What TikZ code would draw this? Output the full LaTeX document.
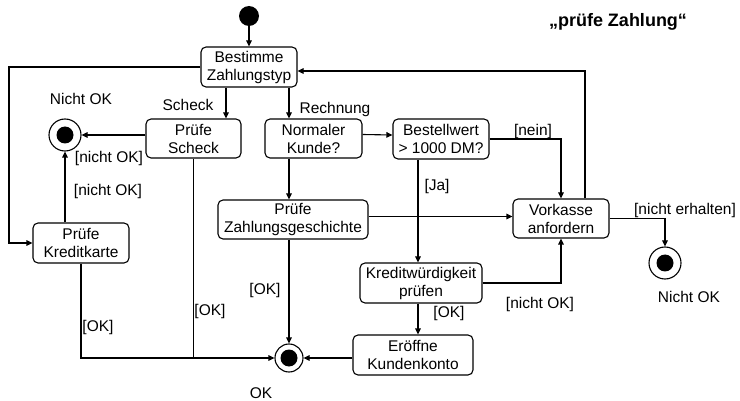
\documentclass[tikz,border=0pt]{standalone}
\usepackage{fontspec}
\setmainfont{Liberation Sans}
\usetikzlibrary{arrows.meta,calc}
\begin{document}
\begin{tikzpicture}[x=1pt,y=-1pt,
  every node/.style={font=\fontsize{15.5}{18}\selectfont},
  box/.style={draw, rounded corners=5pt, align=center, inner sep=0pt, line width=1.1pt},
  ln/.style={line width=1.1pt},
  arr/.style={line width=1.1pt, -{Triangle[length=6pt,width=5.5pt]}},
  fin/.style={draw, circle, line width=1.1pt, inner sep=0pt},
  lbl/.style={inner sep=0pt}]
\useasboundingbox (0,0) rectangle (740,401);
% title
\node[lbl, font=\bfseries\fontsize{18}{21}\selectfont] (title) at (618,22) {„prüfe Zahlung“};
% start
\node[circle, fill, inner sep=0pt, minimum size=20] (start) at (249,16) {};
% boxes
\node[box, minimum width=96, minimum height=40] (bestimme) at (249,67) {Bestimme\\Zahlungstyp};
\node[box, minimum width=95, minimum height=39] (scheck) at (193.5,138.5) {Prüfe\\Scheck};
\node[box, minimum width=97, minimum height=39] (normaler) at (313.5,138.5) {Normaler\\Kunde?};
\node[box, minimum width=96, minimum height=40] (bestell) at (441,139) {Bestellwert\\> 1000 DM?};
\node[box, minimum width=150, minimum height=39] (zahlung) at (293,219.5) {Prüfe\\Zahlungsgeschichte};
\node[box, minimum width=96, minimum height=39] (vorkasse) at (561,218.5) {Vorkasse\\anfordern};
\node[box, minimum width=96, minimum height=40] (kkarte) at (81,243) {Prüfe\\Kreditkarte};
\node[box, minimum width=122, minimum height=40] (kredit) at (421,283) {Kreditwürdigkeit\\prüfen};
\node[box, minimum width=120, minimum height=40] (eroeffne) at (413,355) {Eröffne\\Kundenkonto};
% final states
\node[fin, minimum size=32] (n1) at (65,135) {};
\fill (n1.center) circle (8.5);
\node[fin, minimum size=32] (n2) at (665,263) {};
\fill (n2.center) circle (8.5);
\node[fin, minimum size=28] (ok) at (289,358) {};
\fill (ok.center) circle (8.5);
% helper coordinates
\coordinate (lx) at (9,0);
\coordinate (sx) at (226,0);
\coordinate (rx) at (289,0);
\coordinate (vx) at (585,0);
\coordinate (jx) at (418,0);
% connectors
\draw[arr] (start) -- (bestimme.north);
\draw[arr] (bestimme.west) -- (bestimme.west -| lx) |- (kkarte.west);
\draw[arr] (vorkasse.north -| vx) |- ($(bestimme.east)+(0,4)$);
\draw[arr] (bestimme.south -| sx) -- (scheck.north -| sx);
\draw[arr] (bestimme.south -| rx) -- (normaler.north -| rx);
\draw[arr] ($(normaler.east)+(0,-4)$) -- ($(bestell.west)+(0,-4)$);
\draw[arr] (bestell.east) -| (vorkasse.north);
\draw[arr] (bestell.south -| jx) -- (kredit.north -| jx);
\draw[arr] (kredit.east) -| (vorkasse.south);
\draw[arr] (kredit.south -| jx) -- (eroeffne.north -| jx);
\draw[arr] (eroeffne.west |- ok.east) -- (ok.east);
\draw[arr] (normaler.south -| rx) -- (zahlung.north -| rx);
\draw[arr] ($(zahlung.east)+(0,-3)$) -- ($(vorkasse.west |- zahlung.east)+(0,-3)$);
\draw[arr] (zahlung.south -| ok.north) -- (ok.north);
\draw[ln] (scheck.south) -- (scheck.south |- ok.west);
\draw[arr] (kkarte.south) |- (ok.west);
\draw[arr] (scheck.west |- n1.east) -- (n1.east);
\draw[arr] (kkarte.north -| n1.south) -- (n1.south);
\draw[arr] (vorkasse.east) -| (n2.north);
% labels
\node[lbl] (l1) at (81,99) {Nicht OK};
\node[lbl] (l2) at (188,105) {Scheck};
\node[lbl] (l3) at (335,109) {Rechnung};
\node[lbl] (l4) at (109,158) {[nicht OK]};
\node[lbl] (l5) at (108,191) {[nicht OK]};
\node[lbl] (l6) at (533,131) {[nein]};
\node[lbl] (l7) at (437,186) {[Ja]};
\node[lbl] (l8) at (685,210) {[nicht erhalten]};
\node[lbl] (l9) at (689,297) {Nicht OK};
\node[lbl] (l10) at (540,304) {[nicht OK]};
\node[lbl] (l11) at (449,313) {[OK]};
\node[lbl] (l12) at (265,290) {[OK]};
\node[lbl] (l13) at (210,311) {[OK]};
\node[lbl] (l14) at (98,327) {[OK]};
\node[lbl] (l15) at (261,393) {OK};
\end{tikzpicture}
\end{document}
